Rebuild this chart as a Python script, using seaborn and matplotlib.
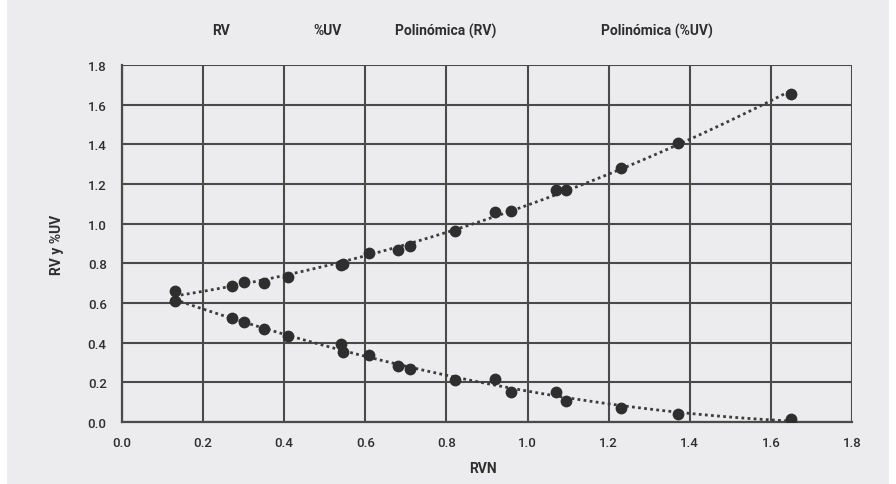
import numpy as np
import pandas as pd
import matplotlib
matplotlib.use('Agg')
import matplotlib.pyplot as plt
from matplotlib.patches import Rectangle
import seaborn as sns

# datos
rvn = [0.13, 0.27, 0.30, 0.35, 0.41, 0.54, 0.545, 0.61, 0.68, 0.71, 0.82, 0.92,
       0.96, 1.07, 1.095, 1.23, 1.37, 1.65]
rv = [0.662, 0.684, 0.705, 0.701, 0.731, 0.793, 0.797, 0.851, 0.869, 0.889, 0.962,
      1.061, 1.063, 1.168, 1.168, 1.283, 1.405, 1.654]
uv = [0.609, 0.524, 0.506, 0.469, 0.435, 0.395, 0.351, 0.339, 0.284, 0.266, 0.213,
      0.215, 0.153, 0.153, 0.108, 0.072, 0.040, 0.015]
leyenda = ['RV', '%UV', 'Polinómica (RV)', 'Polinómica (%UV)']

df = pd.DataFrame({'RVN': rvn, 'RV': rv, '%UV': uv})

gris_fondo = '#ececee'
gris_oscuro = '#2e2e2e'
gris_rejilla = '#4a4a4a'

sns.set_style('whitegrid')
plt.rcParams['font.family'] = ['Roboto', 'DejaVu Sans']
fuente_bold = ['Roboto', 'DejaVu Sans']

fig = plt.figure(figsize=(8.96, 4.85), dpi=100, facecolor='white')
fig.patches.append(Rectangle((7 / 896, 0), 882 / 896, 1, transform=fig.transFigure,
                             facecolor=gris_fondo, edgecolor='none', zorder=-10))
ax = fig.add_axes([122 / 896, 1 - 423 / 485, 730 / 896, 357 / 485])
ax.set_facecolor(gris_fondo)

for col in ['RV', '%UV']:
    sns.regplot(data=df, x='RVN', y=col, order=2, ci=None, ax=ax,
                scatter_kws={'s': 72, 'color': gris_oscuro, 'alpha': 1, 'linewidths': 0,
                             'zorder': 4},
                line_kws={'color': '#3c3c3c', 'linestyle': (0, (1, 1.2)), 'linewidth': 2.0,
                          'zorder': 3})

ax.set_xlim(0, 1.8)
ax.set_ylim(0, 1.8)
ax.set_xticks(np.arange(0, 1.81, 0.2))
ax.set_yticks(np.arange(0, 1.81, 0.2))
ax.xaxis.set_major_formatter(matplotlib.ticker.FormatStrFormatter('%.1f'))
ax.yaxis.set_major_formatter(matplotlib.ticker.FormatStrFormatter('%.1f'))
ax.grid(True, color=gris_rejilla, linewidth=1.5)
ax.tick_params(axis='both', length=0, labelsize=9.5, colors=gris_oscuro)
ax.tick_params(axis='x', pad=10)
ax.tick_params(axis='y', pad=11)
for lab in ax.get_xticklabels() + ax.get_yticklabels():
    lab.set_fontweight('medium')
for s in ax.spines.values():
    s.set_visible(False)
ax.spines['left'].set_visible(True)
ax.spines['bottom'].set_visible(True)
ax.spines['left'].set_color(gris_rejilla)
ax.spines['bottom'].set_color(gris_rejilla)
ax.spines['left'].set_linewidth(1.6)
ax.spines['bottom'].set_linewidth(1.6)

ax.set_xlabel('RVN', fontsize=10, fontweight='bold', family=fuente_bold, color=gris_oscuro)
ax.set_ylabel('RV y %UV', fontsize=10, fontweight='bold', family=fuente_bold, color=gris_oscuro)
ax.xaxis.set_label_coords((483 - 122) / 730, -(462 - 423) / 357)
ax.yaxis.set_label_coords((64 - 122) / 730, 0.5)

# leyenda sin simbolos
pos_x = [221, 328, 446, 657]
for txt, px in zip(leyenda, pos_x):
    fig.text(px / 896, 1 - 31 / 485, txt, ha='center', va='center', fontsize=10,
             fontweight='bold', family=fuente_bold, color=gris_oscuro)

fig.savefig('out.png', dpi=100, facecolor=fig.get_facecolor())
